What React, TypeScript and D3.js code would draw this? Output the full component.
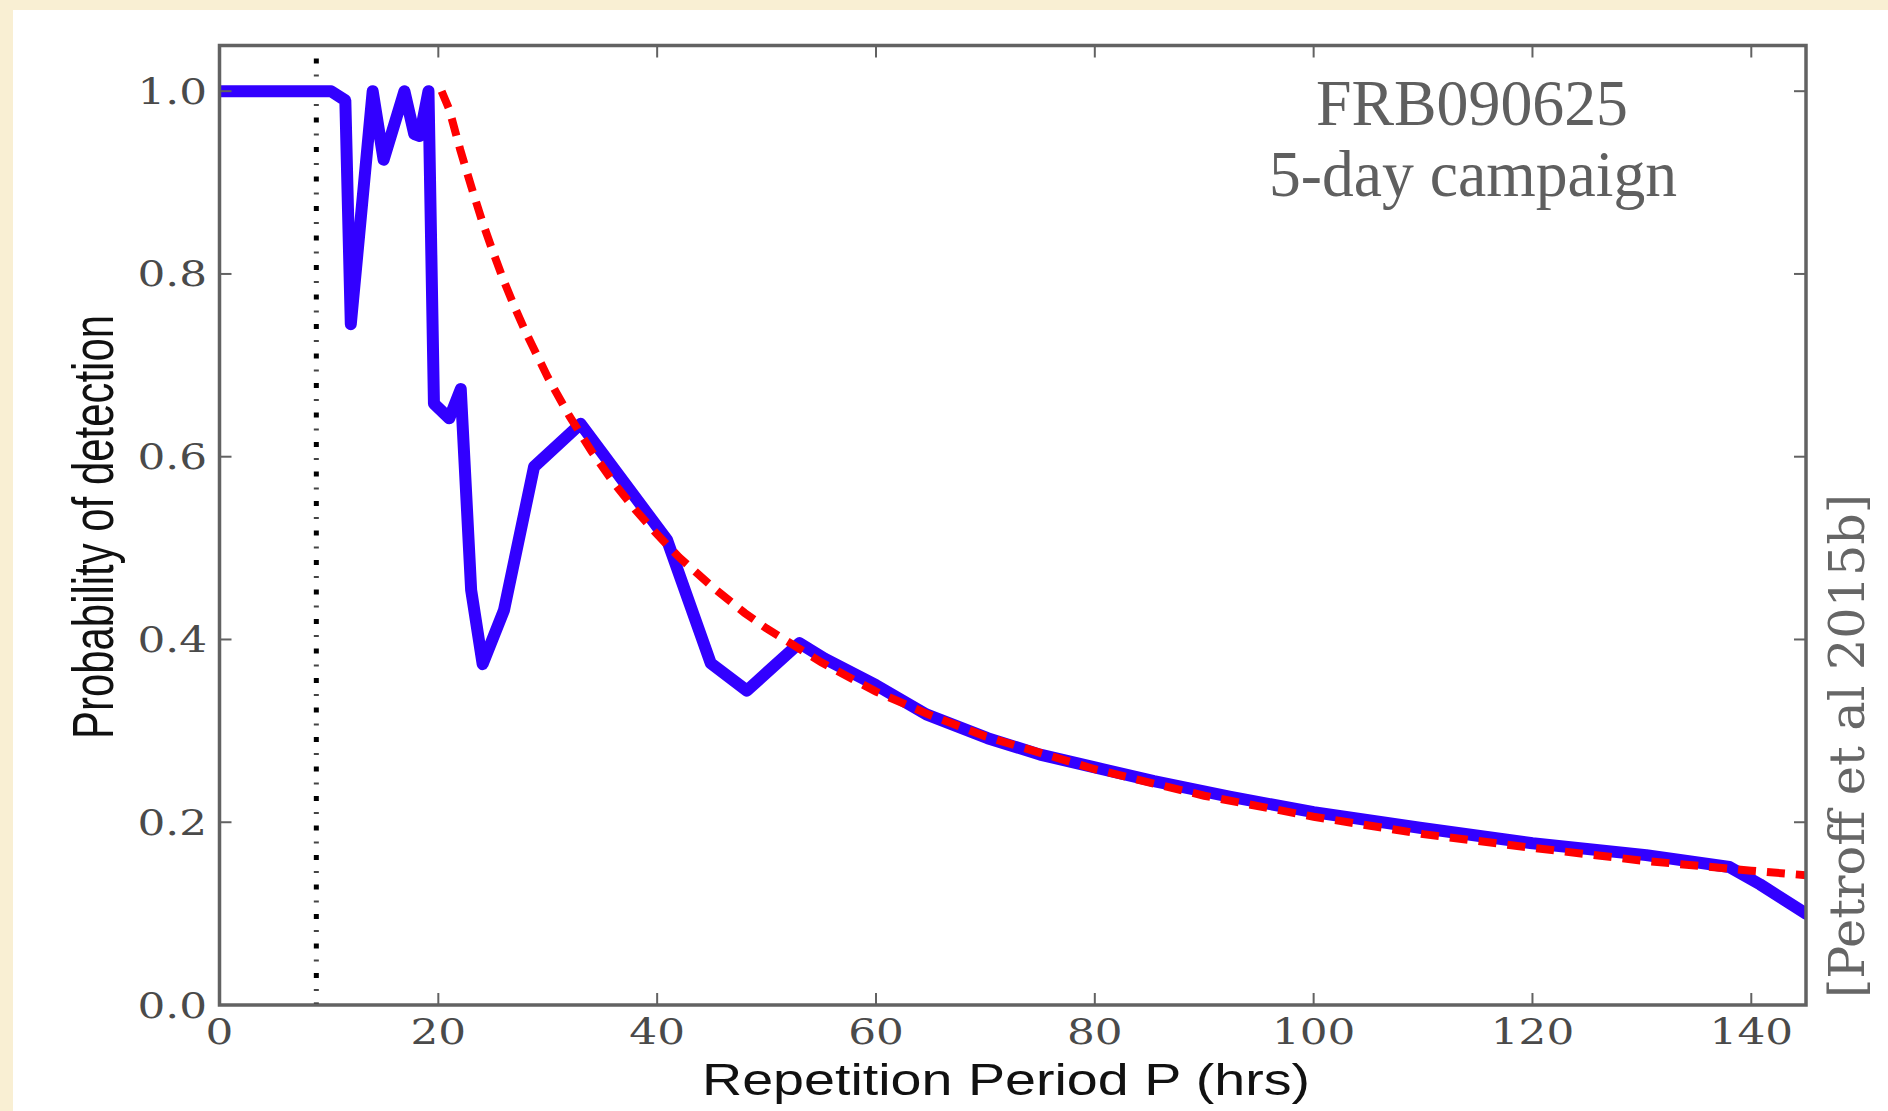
import React from "react";
import * as d3 from "d3";

// ---- data ----
const blueP = [0, 10.2, 11.5, 12.0, 14.0, 15.0, 16.9, 17.8, 18.3, 19.1, 19.6, 21.0, 22.05, 23.0, 24.05, 26.0, 28.75, 33.0, 40.9, 44.9, 48.2, 53.0, 55.3, 60, 64.6, 70.2, 75, 80, 85.4, 92.3, 100, 109.7, 120, 130.4, 138, 140.8, 145];
const blueV = [1.0, 1.0, 0.99, 0.745, 1.0, 0.925, 1.0, 0.953, 0.951, 1.0, 0.658, 0.642, 0.674, 0.454, 0.373, 0.432, 0.589, 0.636, 0.509, 0.374, 0.344, 0.396, 0.379, 0.35, 0.318, 0.292, 0.274, 0.26, 0.245, 0.228, 0.211, 0.194, 0.177, 0.164, 0.151, 0.132, 0.1];

const redP = [20.3, 21, 22, 23, 24, 25, 26, 27, 28, 30, 32, 34, 36, 38, 40, 42, 45, 48, 50, 55, 60, 65, 70, 80, 90, 100, 110, 120, 130, 140, 145];
const redV = [1.0, 0.98, 0.936, 0.896, 0.858, 0.824, 0.792, 0.763, 0.736, 0.687, 0.644, 0.606, 0.572, 0.542, 0.515, 0.49, 0.458, 0.429, 0.412, 0.375, 0.343, 0.317, 0.294, 0.258, 0.229, 0.206, 0.187, 0.172, 0.158, 0.147, 0.142];

const detectionLimitP = 8.85;

const xTicks = [0, 20, 40, 60, 80, 100, 120, 140];
const yTicks = [0, 0.2, 0.4, 0.6, 0.8, 1.0];
const yTickLabels = ["0.0", "0.2", "0.4", "0.6", "0.8", "1.0"];

const xLabel = "Repetition Period P (hrs)";
const yLabel = "Probability of detection";
const titleLine1 = "FRB090625";
const titleLine2 = "5-day campaign";
const sourceNote = "[Petroff et al 2015b]";

const W = 1888;
const H = 1111;
const M = { left: 219.5, right: 1806, top: 45.5, bottom: 1005 };

export default function App() {
  const x = d3.scaleLinear().domain([0, 145]).range([M.left, M.right]);
  const y = d3.scaleLinear().domain([0, 1.05]).range([M.bottom, M.top]);

  const line = d3
    .line<[number, number]>()
    .x((d) => x(d[0]))
    .y((d) => y(d[1]));

  const blueData: [number, number][] = blueP.map((p, i) => [p, blueV[i]]);
  const redData: [number, number][] = redP.map((p, i) => [p, redV[i]]);

  const axisColor = "#626262";
  const labelColor = "#4a4a4a";
  const tickLen = 12;

  return (
    <svg
      width={W}
      height={H}
      viewBox={`0 0 ${W} ${H}`}
      style={{ position: "absolute", left: 0, top: 0, display: "block" }}
    >
      <defs>
        <clipPath id="plotClip">
          <rect x={M.left} y={M.top} width={M.right - M.left} height={M.bottom - M.top} />
        </clipPath>
      </defs>
      <rect x={0} y={0} width={W} height={H} fill="#f9efd3" />
      <rect x={13} y={10} width={W - 13} height={H - 10} fill="#ffffff" />

      <g clipPath="url(#plotClip)">
        {/* vertical dash-dot line */}
        <line
          x1={x(detectionLimitP)}
          x2={x(detectionLimitP)}
          y1={y(0)}
          y2={y(1.05)}
          stroke="#000"
          strokeWidth={5}
          strokeDasharray="5 24.5"
          strokeDashoffset={2.5}
        />
        <line
          x1={x(detectionLimitP)}
          x2={x(detectionLimitP)}
          y1={y(0)}
          y2={y(1.05)}
          stroke="#444"
          strokeWidth={5}
          strokeDasharray="2 27.5"
          strokeDashoffset={-14}
        />
        <path
          d={line(blueData) || ""}
          fill="none"
          stroke="#3200ff"
          strokeWidth={12}
          strokeLinejoin="round"
          strokeLinecap="round"
        />
        <path
          d={line(redData) || ""}
          fill="none"
          stroke="#ff0000"
          strokeWidth={8}
          strokeDasharray="18 11"
        />
      </g>

      {/* ticks */}
      <g stroke={axisColor} strokeWidth={2}>
        {xTicks.map((t) => (
          <g key={"xt" + t}>
            <line x1={x(t)} x2={x(t)} y1={M.bottom} y2={M.bottom - tickLen} />
            <line x1={x(t)} x2={x(t)} y1={M.top} y2={M.top + tickLen} />
          </g>
        ))}
        {yTicks.map((t) => (
          <g key={"yt" + t}>
            <line x1={M.left} x2={M.left + tickLen} y1={y(t)} y2={y(t)} />
            <line x1={M.right} x2={M.right - tickLen} y1={y(t)} y2={y(t)} />
          </g>
        ))}
      </g>

      {/* frame */}
      <rect
        x={M.left}
        y={M.top}
        width={M.right - M.left}
        height={M.bottom - M.top}
        fill="none"
        stroke={axisColor}
        strokeWidth={3.5}
      />

      {/* tick labels */}
      <g fontFamily="'DejaVu Serif', serif" fontSize={35} fill={labelColor}>
        {xTicks.map((t) => (
          <text
            key={"xl" + t}
            transform={`translate(${x(t)},${1044}) scale(1.25,1)`}
            textAnchor="middle"
          >
            {String(t)}
          </text>
        ))}
        {yTicks.map((t, i) => (
          <text
            key={"yl" + t}
            transform={`translate(${207},${y(t) + 12.5}) scale(1.25,1)`}
            textAnchor="end"
          >
            {yTickLabels[i]}
          </text>
        ))}
      </g>

      {/* axis labels */}
      <text
        x={1006}
        y={1095}
        textAnchor="middle"
        fontFamily="'Liberation Sans', Arial, sans-serif"
        fontSize={44}
        fill="#111"
        textLength={608}
        lengthAdjust="spacingAndGlyphs"
      >
        {xLabel}
      </text>
      <text
        transform={`translate(${113},${527}) scale(1.38,1) rotate(-90)`}
        textAnchor="middle"
        fontFamily="'Liberation Sans', Arial, sans-serif"
        fontSize={42}
        fill="#111"
        textLength={424}
        lengthAdjust="spacingAndGlyphs"
      >
        {yLabel}
      </text>

      {/* annotation */}
      <g fontFamily="'Liberation Serif', 'Times New Roman', serif" fill="#5f5f5f" fontSize={66}>
        <text x={1472} y={125} textAnchor="middle" textLength={312} lengthAdjust="spacingAndGlyphs">
          {titleLine1}
        </text>
        <text x={1473} y={196} textAnchor="middle" textLength={408} lengthAdjust="spacingAndGlyphs">
          {titleLine2}
        </text>
      </g>

      {/* source note */}
      <text
        transform={`translate(${1864},${998}) rotate(-90)`}
        textAnchor="start"
        fontFamily="'DejaVu Serif', serif"
        fontSize={48}
        fill="#666"
        textLength={504}
        lengthAdjust="spacingAndGlyphs"
      >
        {sourceNote}
      </text>
    </svg>
  );
}
